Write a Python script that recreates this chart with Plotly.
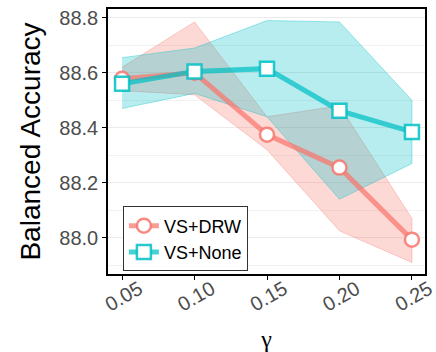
import plotly.graph_objects as go

gamma = [0.05, 0.10, 0.15, 0.20, 0.25]
tick_labels = ["0.05", "0.10", "0.15", "0.20", "0.25"]
y_ticks = [88.0, 88.2, 88.4, 88.6, 88.8]
y_tick_labels = ["88.0", "88.2", "88.4", "88.6", "88.8"]
y_minor = [87.9, 88.1, 88.3, 88.5, 88.7]

drw_mean = [88.578, 88.600, 88.375, 88.255, 87.993]
drw_upper = [88.620, 88.785, 88.440, 88.480, 88.070]
drw_lower = [88.535, 88.520, 88.320, 88.025, 87.910]

none_mean = [88.560, 88.605, 88.615, 88.462, 88.385]
none_upper = [88.655, 88.690, 88.790, 88.785, 88.500]
none_lower = [88.470, 88.525, 88.440, 88.140, 88.270]

RED = (248, 118, 109)
CYAN = (0, 191, 196)

def rgba(c, a):
    return f"rgba({c[0]},{c[1]},{c[2]},{a})"

fig = go.Figure()

series = [
    ("VS+DRW", drw_mean, drw_upper, drw_lower, RED, "circle"),
    ("VS+None", none_mean, none_upper, none_lower, CYAN, "square"),
]

for name, mean, up, lo, col, sym in series:
    fig.add_trace(go.Scatter(
        x=gamma + gamma[::-1], y=up + lo[::-1],
        fill="toself", fillcolor=rgba(col, 0.28),
        line=dict(color=rgba(col, 0.6), width=0.6),
        mode="lines", hoverinfo="skip", showlegend=False,
    ))

for name, mean, up, lo, col, sym in series:
    fig.add_trace(go.Scatter(
        x=gamma, y=mean, name=name, mode="lines+markers",
        line=dict(color=rgba(col, 0.72), width=5),
        marker=dict(symbol=sym, size=14, color="white",
                    line=dict(color=rgba(col, 0.85), width=2.5)),
        showlegend=True,
    ))

fig.update_layout(
    width=436, height=352,
    margin=dict(l=108, r=11, t=9, b=78),
    paper_bgcolor="white", plot_bgcolor="white",
    font=dict(family="Liberation Sans, Arial, sans-serif", color="#4D4D4D", size=20),
    showlegend=True,
    legend=dict(
        x=0.047, y=0.255, xanchor="left", yanchor="top",
        bgcolor="white", bordercolor="#333333", borderwidth=1,
        font=dict(size=18, color="black"),
        tracegroupgap=0, itemwidth=30,
    ),
    xaxis=dict(
        range=[0.0403, 0.259], tickvals=gamma, ticktext=tick_labels,
        tickangle=-30, ticks="outside", ticklen=4, tickcolor="black", tickwidth=1.2,
        ticklabelshift=17, ticklabelstandoff=-10, ticklabeloverflow="allow",
        automargin=False,
        showgrid=False, showline=True, linecolor="black", linewidth=1.5, mirror=True,
        zeroline=False,
        title=dict(text="γ", font=dict(size=24, color="black",
                                       family="Liberation Serif, DejaVu Serif, serif"),
                   standoff=22),
        tickfont=dict(size=20, color="#4D4D4D"),
    ),
    yaxis=dict(
        range=[87.868, 88.832], tickvals=y_ticks, ticktext=y_tick_labels,
        ticks="outside", ticklen=4, tickcolor="black", tickwidth=1.2,
        automargin=False,
        showgrid=True, gridcolor="#EBEBEB", gridwidth=1.3,
        minor=dict(tickvals=y_minor, showgrid=True,
                   gridcolor="#F2F2F2", gridwidth=0.8, ticks=""),
        showline=True, linecolor="black", linewidth=1.5, mirror=True,
        zeroline=False,
        title=dict(text="Balanced Accuracy", font=dict(size=28, color="black"), standoff=11),
        tickfont=dict(size=20, color="#4D4D4D"),
    ),
)

fig.write_html("out.html")
